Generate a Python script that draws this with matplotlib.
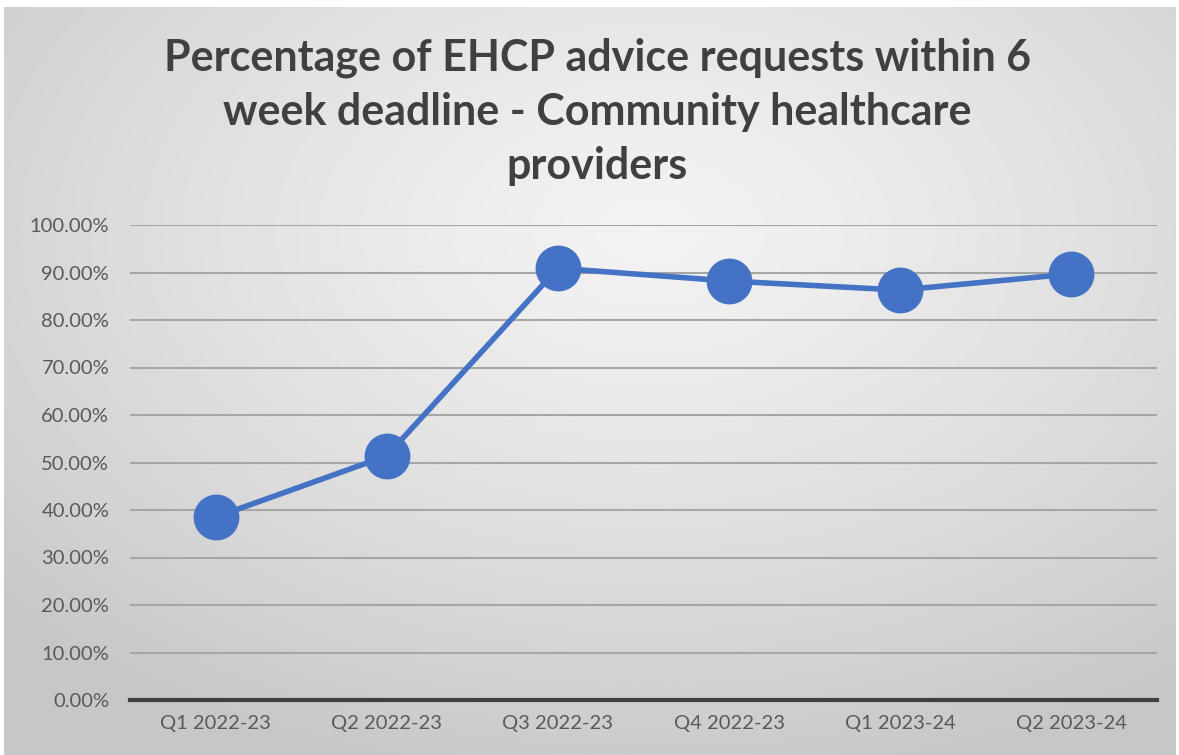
import numpy as np
import matplotlib.pyplot as plt
from matplotlib.ticker import FuncFormatter

# data
quarters = ['Q1 2022-23', 'Q2 2022-23', 'Q3 2022-23', 'Q4 2022-23', 'Q1 2023-24', 'Q2 2023-24']
pct_within_6wk = [38.5, 51.4, 90.9, 88.2, 86.3, 89.7]

title = 'Percentage of EHCP advice requests within 6\nweek deadline - Community healthcare\nproviders'

plt.rcParams['font.family'] = ['Lato', 'DejaVu Sans']

W, H = 1179, 755
fig = plt.figure(figsize=(W / 100, H / 100), dpi=100)
fig.patch.set_facecolor('white')

# radial grey gradient background
bg = fig.add_axes([4 / W, 0, (1176 - 4) / W, 748 / H], zorder=0)
yy, xx = np.mgrid[0:1:400j, 0:1:600j]
r = np.sqrt(((xx - 0.55) / 0.75) ** 2 + ((yy - 0.3) / 0.75) ** 2)
shade = 0.95 - 0.17 * np.clip(r, 0, 1) ** 1.3
bg.imshow(shade, cmap='gray', vmin=0, vmax=1, aspect='auto', extent=[0, 1, 1, 0])
bg.set_axis_off()

ax = fig.add_axes([130 / W, 1 - 700 / H, (1157 - 130) / W, (700 - 225) / H], zorder=1)
ax.set_facecolor('none')

x = np.arange(len(quarters))
ax.plot(x, pct_within_6wk, color='#4472C4', lw=4, marker='o', ms=32,
        markerfacecolor='#4472C4', markeredgecolor='#4472C4', zorder=3, clip_on=False)

ax.set_xlim(-0.5, len(quarters) - 0.5)
ax.set_ylim(0, 100)
ax.set_yticks(np.arange(0, 101, 10))
ax.yaxis.set_major_formatter(FuncFormatter(lambda v, p: f'{v:.2f}%'))
ax.set_xticks(x)
ax.set_xticklabels(quarters)
ax.grid(axis='y', color='#a6a6a6', lw=1.5)
ax.set_axisbelow(True)
for s in ['top', 'right', 'left']:
    ax.spines[s].set_visible(False)
ax.spines['bottom'].set_color('#404040')
ax.spines['bottom'].set_linewidth(3)
ax.tick_params(length=0, labelsize=14.5, colors='#595959', pad=11)
ax.tick_params(axis='y', pad=15)

fig.text(597 / W, 1 - 112 / H, title, ha='center', va='center', fontsize=31,
         fontweight='bold', color='#404040', linespacing=1.42)

fig.savefig('out.png', dpi=100)
